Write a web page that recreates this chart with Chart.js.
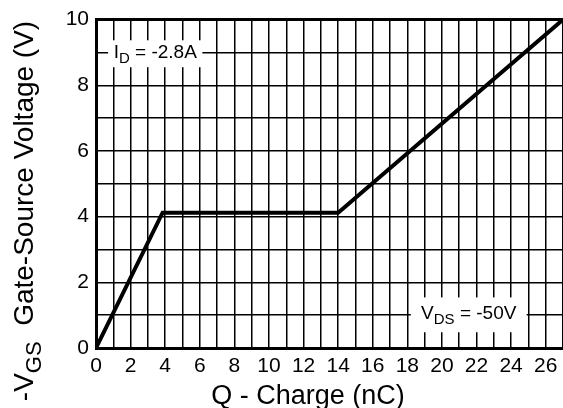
<!DOCTYPE html>
<html>
<head>
<meta charset="utf-8">
<script src="https://cdn.jsdelivr.net/npm/chart.js@4/dist/chart.umd.min.js"></script>
<style>
  html, body { margin:0; padding:0; background:#fff; }
  canvas { display:block; }
</style>
</head>
<body>
<canvas id="gateChart" width="563" height="408"></canvas>
<script>
// gate charge curve
const qCharge = [0, 3.85, 14, 27];        // nC
const vGS = [0, 4.12, 4.12, 10];          // V
const xTickLabels = [0, 2, 4, 6, 8, 10, 12, 14, 16, 18, 20, 22, 24, 26];
const yTickLabels = [0, 2, 4, 6, 8, 10];

const FONT = "'Liberation Sans', Arial, sans-serif";

// draw text made of normal + subscript parts, starting at x (left), baseline y
function drawParts(ctx, x, y, parts, size){
  parts.forEach(p => {
    const s = p.sub ? Math.round(size * 0.78) : size;
    ctx.font = `${s}px ${FONT}`;
    ctx.fillText(p.t, x, p.sub ? y + size * 0.28 : y);
    x += ctx.measureText(p.t).width;
  });
}
function partsWidth(ctx, parts, size){
  let w = 0;
  parts.forEach(p => {
    const s = p.sub ? Math.round(size * 0.78) : size;
    ctx.font = `${s}px ${FONT}`;
    w += ctx.measureText(p.t).width;
  });
  return w;
}

// white boxed labels sitting on the grid, plus axis titles with subscripts
const labelsPlugin = {
  id: 'labels',
  beforeDatasetsDraw(chart){
    const {ctx, scales:{x, y}} = chart;
    const boxes = [
      {x0:0.7, x1:6.15, y0:8.55, y1:9.37, parts:[{t:'I'},{t:'D',sub:true},{t:' = -2.8A'}]},
      {x0:18.2, x1:24.9, y0:0.48, y1:1.54, parts:[{t:'V'},{t:'DS',sub:true},{t:' = -50V'}]}
    ];
    ctx.save();
    boxes.forEach(b => {
      const l = x.getPixelForValue(b.x0), r = x.getPixelForValue(b.x1);
      const t = y.getPixelForValue(b.y1), btm = y.getPixelForValue(b.y0);
      ctx.fillStyle = '#fff';
      ctx.fillRect(l, t, r - l, btm - t);
      ctx.fillStyle = '#000';
      ctx.textBaseline = 'alphabetic';
      const w = partsWidth(ctx, b.parts, 19);
      drawParts(ctx, (l + r) / 2 - w / 2, (t + btm) / 2 + 4, b.parts, 19);
    });
    ctx.restore();
  },
  afterDraw(chart){
    const {ctx} = chart;
    ctx.save();
    ctx.fillStyle = '#000';
    ctx.textBaseline = 'alphabetic';
    // x title
    ctx.font = `27px ${FONT}`;
    ctx.textAlign = 'center';
    ctx.fillText('Q - Charge (nC)', 308, 404);
    // y title, rotated
    ctx.textAlign = 'left';
    const parts = [{t:'-V'},{t:'GS',sub:true},{t:'  Gate-Source Voltage (V)'}];
    const w = partsWidth(ctx, parts, 28);
    ctx.translate(33, 211);
    ctx.rotate(-Math.PI / 2);
    drawParts(ctx, -w / 2, 0, parts, 28);
    ctx.restore();
  }
};

new Chart(document.getElementById('gateChart'), {
  type: 'line',
  data: {
    datasets: [{
      data: qCharge.map((q, i) => ({x:q, y:vGS[i]})),
      borderColor: '#000',
      borderWidth: 4,
      pointRadius: 0,
      fill: false,
      tension: 0
    }]
  },
  options: {
    responsive: false,
    devicePixelRatio: 1,
    animation: false,
    layout: { padding: { top:16, left:0, right:-2, bottom:0 } },
    plugins: { legend:{ display:false }, tooltip:{ enabled:false } },
    scales: {
      x: {
        type: 'linear', min: 0, max: 27,
        afterFit: s => { s.height = 60; s.paddingRight = 0; s.paddingLeft = 0; },
        ticks: {
          stepSize: 1, autoSkip: false, maxRotation: 0, padding: 6,
          color: '#000', font: { family: FONT, size: 21 },
          callback: v => xTickLabels.includes(v) ? String(v) : ''
        },
        grid: { color: '#000', drawTicks: false, lineWidth: 1.5 },
        border: { display: true, color: '#000', width: 3 }
      },
      y: {
        min: 0, max: 10,
        afterFit: s => { s.width = 96; },
        ticks: {
          stepSize: 1, autoSkip: false, padding: 7,
          color: '#000', font: { family: FONT, size: 21 },
          callback: v => yTickLabels.includes(v) ? String(v) : ''
        },
        grid: {
          color: '#000', drawTicks: false,
          lineWidth: c => (c.tick && c.tick.value === 10) ? 3 : 1.5
        },
        border: { display: true, color: '#000', width: 3 }
      }
    }
  },
  plugins: [labelsPlugin]
});
</script>
</body>
</html>
